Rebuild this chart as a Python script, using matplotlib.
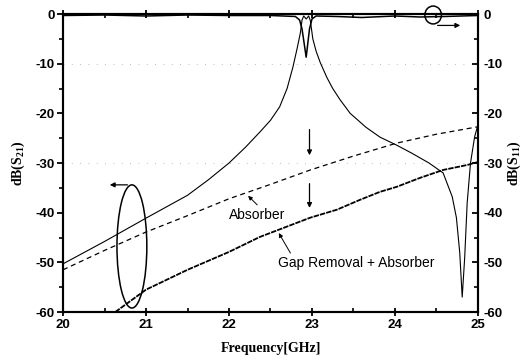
import matplotlib
matplotlib.use("Agg")
import matplotlib.pyplot as plt
from matplotlib.patches import Ellipse
from matplotlib.ticker import MultipleLocator

plt.rcParams['font.family'] = ['Liberation Sans', 'DejaVu Sans']
plt.rcParams['axes.unicode_minus'] = False
plt.rcParams['mathtext.fontset'] = 'custom'
plt.rcParams['mathtext.rm'] = 'Liberation Serif:bold'
plt.rcParams['mathtext.it'] = 'Liberation Serif:bold'
plt.rcParams['mathtext.bf'] = 'Liberation Serif:bold'

# S21 of the plain structure [GHz, dB]
f_s21 = [20.0, 20.5, 21.0, 21.5, 21.75, 22.0, 22.2, 22.37, 22.5, 22.61, 22.7,
         22.77, 22.82, 22.86, 22.88, 22.9, 22.93, 22.96, 22.98, 23.01, 23.05,
         23.1, 23.18, 23.25, 23.34, 23.46, 23.65, 23.82, 24.02, 24.2, 24.41,
         24.58, 24.69, 24.74, 24.78, 24.81, 24.84, 24.87, 24.91, 24.96, 25.0]
s21 = [-50.3, -45.8, -41.1, -36.5, -33.4, -30.0, -26.8, -23.8, -21.4, -18.7, -15.0,
       -10.7, -7.0, -3.8, -1.2, -0.4, -1.0, -0.4, -1.3, -5.0, -7.5,
       -9.8, -12.8, -15.0, -17.3, -20.0, -22.8, -24.8, -26.4, -28.0, -30.0,
       -32.0, -36.8, -41.0, -48.0, -57.0, -49.0, -38.0, -30.0, -24.7, -22.3]

# S11 of the plain structure (right axis)
f_s11 = [20.0, 20.5, 21.0, 21.5, 22.0, 22.5, 22.8, 22.85, 22.88, 22.93, 22.97,
         23.0, 23.05, 23.3, 23.6, 24.0, 24.3, 24.6, 25.0]
s11 = [-0.3, -0.2, -0.4, -0.2, -0.3, -0.3, -0.5, -1.2, -3.0, -8.7, -3.0,
       -1.0, -0.4, -0.5, -0.7, -0.4, -0.6, -0.5, -0.3]

# S21 with absorber
f_abs = [20.0, 20.5, 21.0, 21.5, 22.0, 22.5, 22.98, 23.5, 24.02, 24.5, 25.0]
s21_abs = [-51.5, -47.6, -43.9, -40.6, -37.2, -34.3, -31.4, -28.6, -26.0, -24.2, -22.7]

# S21 with gap removal + absorber
f_gap = [20.63, 21.0, 21.5, 22.0, 22.37, 22.98, 23.3, 23.58, 23.82, 24.02,
         24.3, 24.58, 24.87, 25.0]
s21_gap = [-60.0, -55.5, -51.5, -47.9, -44.9, -41.0, -39.4, -37.4, -35.8, -34.8,
           -33.0, -31.4, -30.4, -29.8]

fig = plt.figure(figsize=(5.26, 3.61), dpi=100)
ax = fig.add_axes([0.1198, 0.1357, 0.7889, 0.8255])
ax2 = ax.twinx()

ax.plot(f_s21, s21, color='black', lw=0.8)
ax.plot(f_abs, s21_abs, color='black', lw=0.9, linestyle=(0, (4, 3)))
ax.plot(f_gap, s21_gap, color='black', lw=1.3, linestyle=(0, (3, 0.6)))
ax2.plot(f_s11, s11, color='black', lw=1.1)

# sparse dotted guide lines
for yv in (-10, -30):
    ax.axhline(yv, color='gray', lw=0.6, linestyle=(0, (1, 9)), alpha=0.7)

ax.set_xlim(20, 25)
ax.set_ylim(-60, 0)
ax2.set_ylim(-60, 0)

ax.xaxis.set_major_locator(MultipleLocator(1))
ax.xaxis.set_minor_locator(MultipleLocator(0.5))
for a in (ax, ax2):
    a.yaxis.set_major_locator(MultipleLocator(10))
    a.yaxis.set_minor_locator(MultipleLocator(5))

ax.tick_params(axis='x', which='major', direction='inout', length=6, width=1.3,
               labelsize=9.5, pad=2, top=True)
ax.tick_params(axis='x', which='minor', direction='in', length=3, width=1.2, top=True)
ax.tick_params(axis='y', which='major', direction='out', length=4, width=1.3,
               labelsize=9.5, pad=2)
ax.tick_params(axis='y', which='minor', direction='out', length=3, width=1.2)
ax2.tick_params(axis='y', which='major', direction='in', length=4, width=1.3,
                labelsize=9.5, pad=4)
ax2.tick_params(axis='y', which='minor', direction='in', length=3, width=1.2)

for a in (ax, ax2):
    for lab in a.get_xticklabels() + a.get_yticklabels():
        lab.set_fontweight('bold')
    for sp in a.spines.values():
        sp.set_linewidth(1.5)

ax.set_xlabel('Frequency[GHz]', family='Liberation Serif', fontweight='bold',
              fontsize=10, labelpad=8)
ax.set_ylabel('dB(S$_{21}$)', family='Liberation Serif', fontweight='bold',
              fontsize=10, labelpad=6)
ax2.set_ylabel('dB(S$_{11}$)', family='Liberation Serif', fontweight='bold',
               fontsize=10, rotation=90, labelpad=2)

# ellipse marking the S21 curves with arrow to the left axis
ax.add_patch(Ellipse((20.83, -46.8), 0.36, 24.8, fill=False, color='black', lw=1.1))
ax.annotate('', xy=(20.53, -34.4), xytext=(20.81, -34.4),
            arrowprops=dict(arrowstyle='-|>', color='black', lw=0.9, mutation_scale=7))

# circle marking S11 with arrow to the right axis
ax.add_patch(Ellipse((24.46, -0.2), 0.2, 3.6, fill=False, color='black', lw=1.1,
                     clip_on=False))
ax.annotate('', xy=(24.82, -2.3), xytext=(24.48, -2.3),
            arrowprops=dict(arrowstyle='-|>', color='black', lw=0.9, mutation_scale=7))

# downward arrows showing the reduction of S21
ax.annotate('', xy=(22.97, -29.0), xytext=(22.97, -22.7),
            arrowprops=dict(arrowstyle='-|>', color='black', lw=0.9, mutation_scale=7))
ax.annotate('', xy=(22.97, -39.6), xytext=(22.97, -33.6),
            arrowprops=dict(arrowstyle='-|>', color='black', lw=0.9, mutation_scale=7))

# curve labels
ax.annotate('Absorber', xy=(22.23, -36.6), xytext=(22.0, -40.4),
            fontsize=10, va='center', ha='left',
            arrowprops=dict(arrowstyle='-|>', color='black', lw=0.7,
                            mutation_scale=6, shrinkA=0, shrinkB=0,
                            relpos=(0.55, 1.0)))
ax.annotate('Gap Removal + Absorber', xy=(22.6, -44.1), xytext=(22.59, -50.1),
            fontsize=10, va='center', ha='left',
            arrowprops=dict(arrowstyle='-|>', color='black', lw=0.7,
                            mutation_scale=6, shrinkA=0, shrinkB=0,
                            relpos=(0.09, 1.0)))

fig.savefig('out.png', dpi=100)
